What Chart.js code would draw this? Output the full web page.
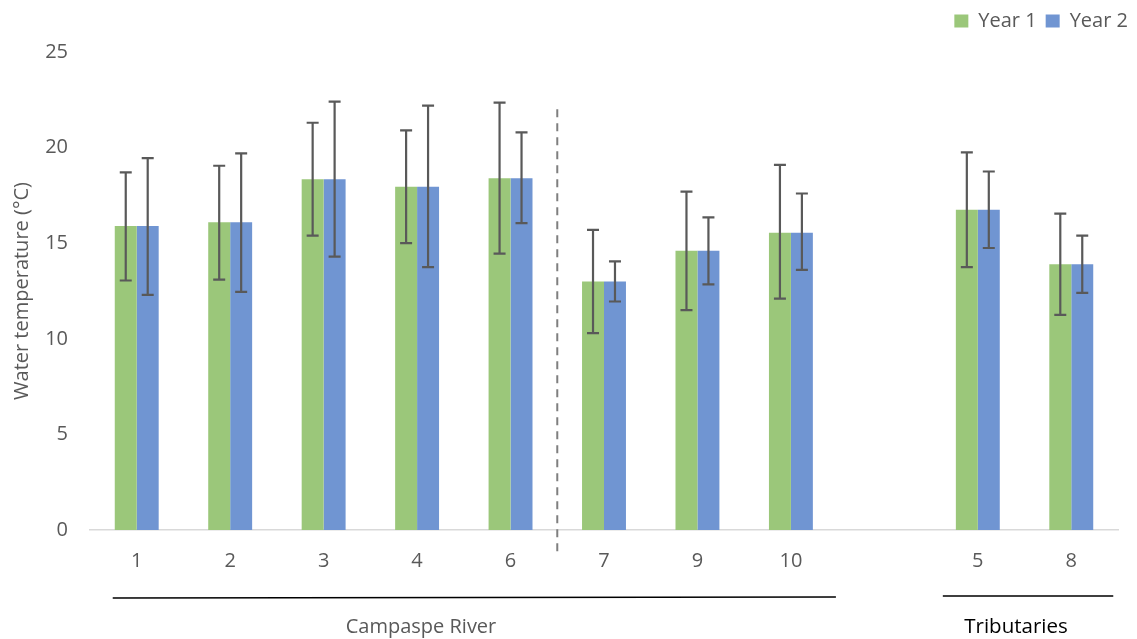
<!DOCTYPE html>
<html>
<head>
<meta charset="utf-8">
<script src="https://cdn.jsdelivr.net/npm/chart.js@4"></script>
<style>
  html, body { margin: 0; padding: 0; background: #fff; }
  #wrap { width: 1137px; height: 639px; }
</style>
</head>
<body>
<div id="wrap"><canvas id="graph"></canvas></div>
<script>
'use strict';

// Sites (the empty one is the gap between river and tributaries)
const sites = ['1', '2', '3', '4', '6', '7', '9', '10', '', '5', '8'];

// Mean water temperature (same mean for both years)
const year1 = [15.9, 16.1, 18.35, 17.95, 18.4, 13.0, 14.6, 15.55, null, 16.75, 13.9];
const year2 = [15.9, 16.1, 18.35, 17.95, 18.4, 13.0, 14.6, 15.55, null, 16.75, 13.9];

// Error bars: low and high ends
const year1Low  = [13.05, 13.1, 15.4, 15.0, 14.45, 10.3, 11.5, 12.1, null, 13.75, 11.25];
const year1High = [18.7, 19.05, 21.3, 20.9, 22.35, 15.7, 17.7, 19.1, null, 19.75, 16.55];
const year2Low  = [12.3, 12.45, 14.3, 13.75, 16.05, 11.95, 12.85, 13.6, null, 14.75, 12.4];
const year2High = [19.45, 19.7, 22.4, 22.2, 20.8, 14.05, 16.35, 17.6, null, 18.75, 15.4];

const yTicks = [0, 5, 10, 15, 20, 25];

const textColor = '#595959';
const fontFamily = '"Open Sans", Lato, sans-serif';

// Leaves room between the legend and the plot
const legendSpace = {
    id: 'legendSpace',
    beforeInit(chart) {
        const fit = chart.legend.fit;
        chart.legend.fit = function () {
            fit.bind(chart.legend)();
            this.height = 50;
        };
    }
};

// Draws the error bars, the dashed separator and the group brackets
const extras = {
    id: 'extras',
    afterDatasetsDraw(chart) {
        const ctx = chart.ctx;
        const x = chart.scales.x;
        const y = chart.scales.y;
        const lows = [year1Low, year2Low];
        const highs = [year1High, year2High];

        ctx.save();
        ctx.strokeStyle = '#595959';
        ctx.lineWidth = 2.2;
        chart.data.datasets.forEach((ds, d) => {
            const meta = chart.getDatasetMeta(d);
            meta.data.forEach((bar, i) => {
                if (highs[d][i] === null) return;
                const yt = y.getPixelForValue(highs[d][i]);
                const yb = y.getPixelForValue(lows[d][i]);
                ctx.beginPath();
                ctx.moveTo(bar.x, yt);
                ctx.lineTo(bar.x, yb);
                ctx.moveTo(bar.x - 6, yt);
                ctx.lineTo(bar.x + 6, yt);
                ctx.moveTo(bar.x - 6, yb);
                ctx.lineTo(bar.x + 6, yb);
                ctx.stroke();
            });
        });

        // dashed line between site 6 and site 7
        const xd = (x.getPixelForValue(4) + x.getPixelForValue(5)) / 2;
        ctx.strokeStyle = '#7f7f7f';
        ctx.lineWidth = 2;
        ctx.setLineDash([8, 6]);
        ctx.beginPath();
        ctx.moveTo(xd, y.getPixelForValue(22));
        ctx.lineTo(xd, chart.chartArea.bottom + 23);
        ctx.stroke();
        ctx.setLineDash([]);

        // brackets under the axis
        ctx.strokeStyle = '#000';
        ctx.lineWidth = 1.3;
        ctx.beginPath();
        ctx.moveTo(x.getPixelForValue(0) - 24, 598);
        ctx.lineTo(x.getPixelForValue(7) + 45, 597);
        ctx.moveTo(x.getPixelForValue(9) - 35, 596);
        ctx.lineTo(x.getPixelForValue(10) + 42, 596);
        ctx.stroke();

        ctx.textAlign = 'center';
        ctx.textBaseline = 'middle';
        ctx.font = '20px ' + fontFamily;
        ctx.fillStyle = textColor;
        ctx.fillText('Campaspe River', 421, 627);
        ctx.font = '20.5px ' + fontFamily;
        ctx.fillStyle = '#000';
        ctx.fillText('Tributaries', 1016, 627);
        ctx.restore();
    }
};

const ctx = document.getElementById('graph').getContext('2d');
new Chart(ctx, {
    type: 'bar',
    data: {
        labels: sites,
        datasets: [{
            label: 'Year 1',
            data: year1,
            backgroundColor: '#9bc77a',
            yAxisID: 'y'
        }, {
            label: 'Year 2',
            data: year2,
            backgroundColor: '#7095d2',
            yAxisID: 'y'
        }]
    },
    options: {
        responsive: true,
        maintainAspectRatio: false,
        animation: false,
        barPercentage: 1,
        categoryPercentage: 0.47,
        layout: { padding: { top: 2, right: 0, left: 0, bottom: 0 } },
        plugins: {
            legend: {
                position: 'top',
                align: 'end',
                labels: {
                    boxWidth: 14,
                    boxHeight: 13,
                    padding: 9,
                    color: textColor,
                    font: { family: fontFamily, size: 20 }
                }
            },
            tooltip: { enabled: false }
        },
        scales: {
            x: {
                grid: { display: false, drawTicks: false },
                border: { display: true, color: '#d9d9d9', width: 1.5 },
                ticks: {
                    color: textColor,
                    font: { family: fontFamily, size: 20 },
                    padding: 19
                },
                afterFit(scale) { scale.height = 109; }
            },
            y: {
                min: 0,
                max: 25,
                afterBuildTicks(scale) { scale.ticks = yTicks.map(v => ({ value: v })); },
                grid: { display: false, drawTicks: false },
                border: { display: false },
                ticks: {
                    color: textColor,
                    font: { family: fontFamily, size: 20 },
                    padding: 22
                },
                title: {
                    display: true,
                    text: 'Water temperature (°C)',
                    color: textColor,
                    font: { family: fontFamily, size: 20 },
                    padding: { top: 10, bottom: 0 }
                },
                afterFit(scale) { scale.width = 90; }
            },
            // empty right margin so the plot ends before the legend's right edge
            yRight: {
                position: 'right',
                min: 0,
                max: 25,
                grid: { display: false, drawTicks: false },
                border: { display: false },
                ticks: { display: false },
                afterFit(scale) { scale.width = 19; }
            }
        }
    },
    plugins: [extras, legendSpace]
});
</script>
</body>
</html>
